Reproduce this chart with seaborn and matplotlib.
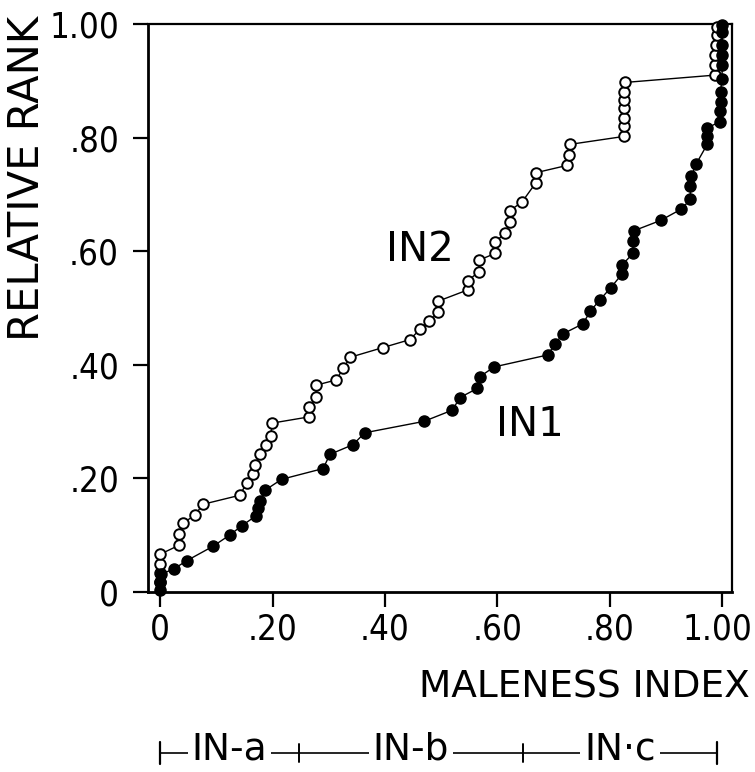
"""
Relative rank vs maleness index for the IN1 / IN2 samples.
Writes out.png
"""

import matplotlib
matplotlib.use("Agg")
import matplotlib.pyplot as plt
import matplotlib.transforms as mtransforms
from matplotlib import font_manager
import seaborn as sns
import pandas as pd

# =============================
# DATA
# =============================

in1_x = [0.0, 0.0, 0.002, 0.024, 0.048, 0.094, 0.124, 0.145, 0.171, 0.175,
         0.177, 0.187, 0.216, 0.290, 0.302, 0.343, 0.364, 0.469, 0.520, 0.533,
         0.564, 0.569, 0.594, 0.689, 0.703, 0.716, 0.752, 0.765, 0.782, 0.801,
         0.821, 0.822, 0.841, 0.841, 0.843, 0.890, 0.927, 0.943, 0.943, 0.945,
         0.953, 0.973, 0.973, 0.973, 0.996, 0.996, 0.997, 0.997, 0.999, 1.0,
         1.0, 1.0, 1.0, 1.0]
in1_y = [0.003, 0.017, 0.031, 0.040, 0.055, 0.080, 0.100, 0.116, 0.134, 0.148,
         0.160, 0.179, 0.198, 0.217, 0.242, 0.259, 0.280, 0.300, 0.320, 0.342,
         0.358, 0.379, 0.396, 0.417, 0.437, 0.454, 0.472, 0.494, 0.514, 0.535,
         0.559, 0.576, 0.596, 0.617, 0.636, 0.654, 0.674, 0.691, 0.715, 0.732,
         0.753, 0.788, 0.802, 0.817, 0.828, 0.846, 0.863, 0.881, 0.904, 0.928,
         0.945, 0.963, 0.986, 0.998]

in2_x = [0.0, 0.0, 0.0, 0.0, 0.034, 0.034, 0.041, 0.062, 0.076, 0.142,
         0.154, 0.166, 0.168, 0.178, 0.188, 0.197, 0.199, 0.265, 0.265, 0.277,
         0.278, 0.313, 0.326, 0.338, 0.396, 0.444, 0.463, 0.479, 0.495, 0.495,
         0.548, 0.548, 0.567, 0.567, 0.596, 0.596, 0.614, 0.622, 0.622, 0.644,
         0.668, 0.668, 0.724, 0.728, 0.729, 0.825, 0.825, 0.825, 0.825, 0.825,
         0.825, 0.826, 0.987, 0.987, 0.987, 0.989, 0.990, 0.991]
in2_y = [0.017, 0.033, 0.048, 0.066, 0.082, 0.102, 0.121, 0.135, 0.154, 0.170,
         0.192, 0.208, 0.223, 0.242, 0.258, 0.275, 0.297, 0.308, 0.326, 0.343,
         0.364, 0.373, 0.394, 0.413, 0.430, 0.444, 0.463, 0.476, 0.493, 0.512,
         0.532, 0.548, 0.564, 0.584, 0.596, 0.616, 0.632, 0.651, 0.671, 0.687,
         0.720, 0.738, 0.751, 0.769, 0.788, 0.802, 0.820, 0.835, 0.852, 0.866,
         0.881, 0.897, 0.910, 0.928, 0.945, 0.963, 0.980, 0.995]

tick_values = [0.0, 0.2, 0.4, 0.6, 0.8, 1.0]
tick_labels = ["0", ".20", ".40", ".60", ".80", "1.00"]

group_names = ["IN-a", "IN-b", "IN·c"]
group_edges = [0.0, 0.247, 0.645, 0.99]

# =============================
# STYLE
# =============================

sns.set_style("ticks")
plt.rcParams["font.family"] = ["DejaVu Sans"]
for key in ["text.color", "axes.labelcolor", "xtick.color", "ytick.color",
            "axes.edgecolor"]:
    plt.rcParams[key] = "black"

# a narrow face for the tick numbers if one is around
narrow = [f.name for f in font_manager.fontManager.ttflist
          if f.stretch in ("condensed", "semi-condensed")
          and f.style == "normal" and f.weight in (400, "normal", "regular")]
if narrow:
    TICK_KW = dict(fontfamily=narrow[0], fontstretch="condensed", fontsize=25)
else:
    TICK_KW = dict(fontfamily="DejaVu Sans", fontsize=22)

df1 = pd.DataFrame({"x": in1_x, "y": in1_y})
df2 = pd.DataFrame({"x": in2_x, "y": in2_y})

fig = plt.figure(figsize=(7.55, 7.72), dpi=100)
ax = fig.add_axes([0.1964, 0.2335, 0.9695 - 0.1964, 0.9689 - 0.2335])

# open circles first, filled ones drawn on top
sns.lineplot(data=df2, x="x", y="y", ax=ax, estimator=None, sort=False,
             color="black", lw=1.0, marker="o", ms=7.6,
             markerfacecolor="white", markeredgecolor="black",
             markeredgewidth=1.4, clip_on=False, zorder=3)
sns.lineplot(data=df1, x="x", y="y", ax=ax, estimator=None, sort=False,
             color="black", lw=1.0, marker="o", ms=8.0,
             markerfacecolor="black", markeredgecolor="black",
             markeredgewidth=1.0, clip_on=False, zorder=4)

ax.set_xlim(-0.021, 1.017)
ax.set_ylim(0, 1.0)
ax.set_xticks(tick_values)
ax.set_yticks(tick_values)
ax.set_xticklabels(tick_labels, **TICK_KW)
ax.set_yticklabels(tick_labels, **TICK_KW)
ax.tick_params(axis="both", direction="out", length=11, width=1.6, color="black")
ax.tick_params(axis="x", pad=4)
ax.tick_params(axis="y", pad=10)
ax.set_xlabel("")
ax.set_ylabel("")

# keep the last x label inside the picture
last = ax.get_xticklabels()[-1]
last.set_transform(last.get_transform()
                   + mtransforms.ScaledTranslation(-5 / 100, 0, fig.dpi_scale_trans))

for side in ["left", "bottom"]:
    ax.spines[side].set_linewidth(2.0)
for side in ["top", "right"]:
    ax.spines[side].set_visible(True)
    ax.spines[side].set_linewidth(1.6)

# series labels
ax.text(0.462, 0.602, "IN2", fontsize=29, ha="center", va="center")
ax.text(0.658, 0.294, "IN1", fontsize=29, ha="center", va="center")

# axis titles
fig.text(27 / 755, 1 - 178 / 772, "RELATIVE RANK", rotation=90, fontsize=30,
         ha="center", va="center")
fig.text(750 / 755, 1 - 688 / 772, "MALENESS INDEX", fontsize=27,
         ha="right", va="center")

# =============================
# GROUP BAR UNDER THE AXIS
# =============================

trans = mtransforms.blended_transform_factory(ax.transData, fig.transFigure)
bar_y = 1 - 753 / 772
half = 11 / 772
ax.plot([group_edges[0], group_edges[-1]], [bar_y, bar_y], color="black",
        lw=1.2, transform=trans, clip_on=False)
for e in [group_edges[0], group_edges[-1]]:
    ax.plot([e, e], [bar_y - half, bar_y + half], color="black", lw=1.6,
            transform=trans, clip_on=False)
for e in group_edges[1:-1]:
    ax.plot([e, e], [bar_y - half * 0.8, bar_y + half * 0.8], color="black",
            lw=1.4, transform=trans, clip_on=False)
for name, lo, hi in zip(group_names, group_edges[:-1], group_edges[1:]):
    ax.text((lo + hi) / 2, 1 - 749 / 772, name, fontsize=27, ha="center",
            va="center", transform=trans, clip_on=False,
            bbox=dict(facecolor="white", edgecolor="none", pad=3))

fig.savefig("out.png", dpi=100)
